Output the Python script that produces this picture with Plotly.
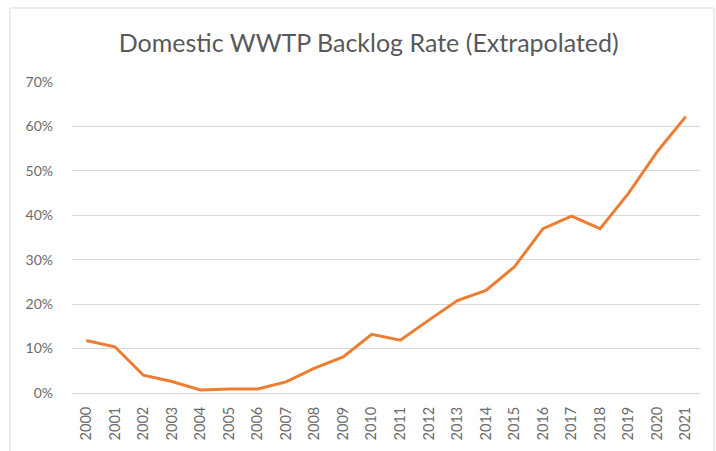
import plotly.graph_objects as go

years = [str(y) for y in range(2000, 2022)]
backlog_rate = [0.118, 0.104, 0.040, 0.026, 0.007, 0.009, 0.009, 0.025, 0.056, 0.081,
                0.132, 0.119, 0.164, 0.208, 0.231, 0.284, 0.370, 0.398, 0.370, 0.450,
                0.543, 0.622]
y_ticks = [0, 0.1, 0.2, 0.3, 0.4, 0.5, 0.6, 0.7]
y_tick_labels = ["0%", "10%", "20%", "30%", "40%", "50%", "60%", "70%"]
title_text = "Domestic WWTP Backlog Rate (Extrapolated)"

fig = go.Figure()
fig.add_trace(go.Scatter(
    x=years, y=backlog_rate, mode="lines",
    line=dict(color="#ED7D31", width=3),
    showlegend=False,
))

fig.update_layout(
    width=716, height=451,
    margin=dict(l=72, r=16, t=82, b=58),
    paper_bgcolor="white", plot_bgcolor="white",
    font=dict(family="Lato, Open Sans, sans-serif", color="#6b6b6b"),
    title=dict(text=title_text, x=0.515, xanchor="center", y=0.903, yanchor="middle",
               font=dict(size=25, color="#595959", family="Lato, Open Sans, sans-serif")),
    xaxis=dict(type="category", range=[-0.5, 21.5], tickangle=-90,
               tickfont=dict(size=14.5), showgrid=False, automargin=False,
               showline=True, linecolor="#d9d9d9", linewidth=1,
               ticks="", ticklabelstandoff=7),
    yaxis=dict(range=[0, 0.7], tickvals=y_ticks, ticktext=y_tick_labels,
               tickfont=dict(size=14), showgrid=True, gridcolor="#d9d9d9", gridwidth=1,
               zeroline=False, showline=False, ticklabelstandoff=18, automargin=False),
    shapes=[dict(type="rect", xref="paper", yref="paper",
                 x0=-62 / 628, x1=(628 + 14) / 628, y0=-0.3, y1=(311 + 74) / 311,
                 line=dict(color="#d9d9d9", width=1), layer="below")],
)

fig.write_html("out.html")
